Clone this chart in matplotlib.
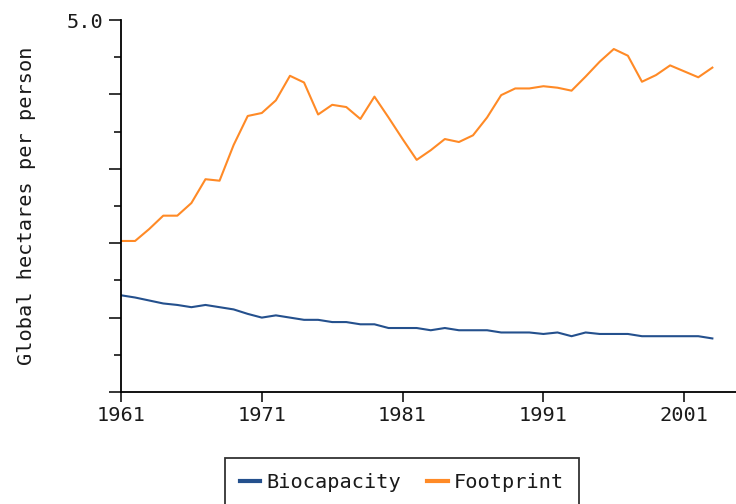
import matplotlib
matplotlib.use('Agg')
import matplotlib.pyplot as plt
from matplotlib.ticker import MultipleLocator, FuncFormatter

plt.rcParams['font.family'] = ['DejaVu Sans Mono', 'DejaVu Sans']

# 1961 - 2003, global hectares per person
years = list(range(1961, 2004))
footprint = [2.03, 2.03, 2.19, 2.37, 2.37, 2.54, 2.86, 2.84, 3.32, 3.71,
             3.75, 3.92, 4.25, 4.16, 3.73, 3.86, 3.83, 3.67, 3.97, 3.69,
             3.40, 3.12, 3.25, 3.40, 3.36, 3.45, 3.69, 3.99, 4.08, 4.08,
             4.11, 4.09, 4.05, 4.24, 4.44, 4.61, 4.52, 4.17, 4.26, 4.39,
             4.31, 4.23, 4.36]
biocapacity = [1.30, 1.27, 1.23, 1.19, 1.17, 1.14, 1.17, 1.14, 1.11, 1.05,
               1.00, 1.03, 1.00, 0.97, 0.97, 0.94, 0.94, 0.91, 0.91, 0.86,
               0.86, 0.86, 0.83, 0.86, 0.83, 0.83, 0.83, 0.80, 0.80, 0.80,
               0.78, 0.80, 0.75, 0.80, 0.78, 0.78, 0.78, 0.75, 0.75, 0.75,
               0.75, 0.75, 0.72]
xticks = [1961, 1971, 1981, 1991, 2001]

W, H = 736, 504
fs = 14.6
txt = '#1a1a1a'
fig = plt.figure(figsize=(W / 100, H / 100), dpi=100)
ax = fig.add_axes([121 / W, 1 - 392 / H, (W - 121) / W, (392 - 20) / H])

l1, = ax.plot(years, biocapacity, color='#24508d', lw=1.5, label='Biocapacity')
l2, = ax.plot(years, footprint, color='#ff8a26', lw=1.5, label='Footprint')

ax.set_xlim(1961, 1961 + (W - 121) / 14.08)
ax.set_ylim(0, 5)

for s in ['top', 'right']:
    ax.spines[s].set_visible(False)
for s in ['left', 'bottom']:
    ax.spines[s].set_linewidth(1.3)
    ax.spines[s].set_color('black')

ax.set_xticks(xticks)
ax.set_xticklabels([str(x) for x in xticks])
ax.yaxis.set_major_locator(MultipleLocator(1))
ax.yaxis.set_minor_locator(MultipleLocator(0.5))
ax.yaxis.set_major_formatter(FuncFormatter(lambda v, p: '5.0' if abs(v - 5) < 1e-6 else ''))

ax.tick_params(axis='y', which='major', length=9, width=1.1, pad=4,
               labelsize=fs, labelcolor=txt)
ax.tick_params(axis='y', which='minor', length=5, width=1.1)
ax.tick_params(axis='x', which='major', length=7, width=1.1, pad=3,
               labelsize=fs, labelcolor=txt)

fig.text(27 / W, 1 - 206 / H, 'Global hectares per person', rotation=90,
         ha='center', va='center', fontsize=fs, color=txt)

leg = fig.legend(handles=[l1, l2], loc='upper center', ncol=2,
                 bbox_to_anchor=(402 / W, 1 - 458 / H), fontsize=fs,
                 frameon=True, fancybox=False, handlelength=1.0,
                 handletextpad=0.3, columnspacing=1.3, borderpad=0.75,
                 borderaxespad=0)
leg.get_frame().set_edgecolor('black')
leg.get_frame().set_linewidth(1.3)
for t in leg.get_texts():
    t.set_color(txt)
for h in leg.legend_handles:
    h.set_linewidth(3)

fig.savefig('out.png', dpi=100)
